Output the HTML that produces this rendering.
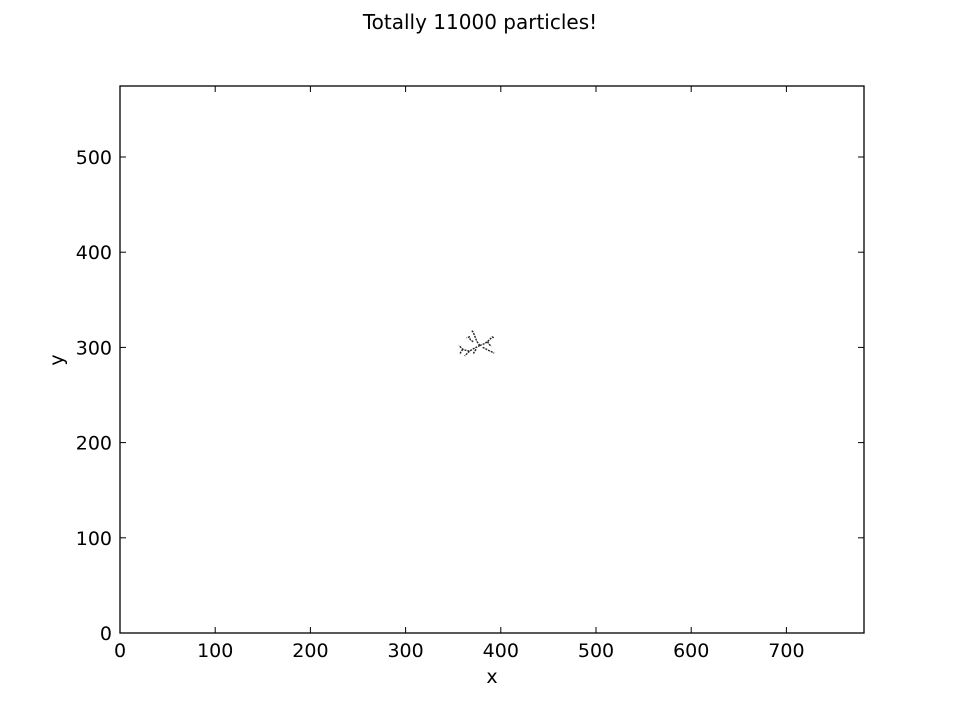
<!DOCTYPE html>
<html><head><meta charset="utf-8"><style>
body{margin:0;background:#fff}
svg text{font-family:"DejaVu Sans","Liberation Sans",sans-serif}
</style></head><body>
<svg id="c" width="960" height="720" xmlns="http://www.w3.org/2000/svg">
<text x="480" y="29" text-anchor="middle" font-size="20">Totally 11000 particles!</text>
<g id="marks"></g>
<rect x="120" y="86" width="744" height="547" fill="none" stroke="#000" stroke-width="1.3"/>
<g id="ticks"></g>
<text x="492" y="683" text-anchor="middle" font-size="19">x</text>
<text x="63" y="360" text-anchor="middle" font-size="19" transform="rotate(-90 63 360)">y</text>
</svg>
<script>
const xTicks=[0,100,200,300,400,500,600,700];
const yTicks=[0,100,200,300,400,500];
// particle cluster branch polylines (data coords)
const branchX=[[378,375,373,371,369],[378,383,386,389,391,393],[381,385,389,391,393],[378,372,367,363,360,356],[367,364,362],[374,372,371],[371,368,367,364],[360,358,357],[386,388,390]];
const branchY=[[302,306,311,316,318],[302,304,306,309,311,310],[300,298,296,295,294],[302,299,296,297,298,302],[296,293,291],[298,295,293],[306,308,311,310],[298,295,293],[306,303,301]];
const X0=120,Y0=633,K=0.952;
const sx=v=>X0+v*K, sy=v=>Y0-v*K;
const NS="http://www.w3.org/2000/svg";
const tg=document.getElementById('ticks');
const mg=document.getElementById('marks');
function mk(t,a,p){const e=document.createElementNS(NS,t);for(const k in a)e.setAttribute(k,a[k]);p.appendChild(e);return e;}
xTicks.forEach(v=>{
 const x=sx(v);
 const l1=mk('line',{x1:x,x2:x,y1:633,y2:627,stroke:'#000'},tg);
 
 
 const l2=mk('line',{x1:x,x2:x,y1:86,y2:92,stroke:'#000'},tg);
 
 
 const t=mk('text',{x:x,y:657,'text-anchor':'middle','font-size':19},tg);t.textContent=v;
 
 
});
yTicks.forEach(v=>{
 const y=sy(v);
 const l1=mk('line',{x1:120,x2:126,y1:y,y2:y,stroke:'#000'},tg);
 
 
 const l2=mk('line',{x1:858,x2:864,y1:y,y2:y,stroke:'#000'},tg);
 
 
 const t=mk('text',{x:112,y:y+7,'text-anchor':'end','font-size':19},tg);t.textContent=v;
 
 
});
branchX.forEach((bx,i)=>{
 const pts=bx.map((v,j)=>sx(v)+','+sy(branchY[i][j])).join(' ');
 const p=mk('polyline',{points:pts,fill:'none',stroke:'#222','stroke-width':1.4,'stroke-dasharray':'2 1'},mg);
 
 
});
</script>
</body></html>
